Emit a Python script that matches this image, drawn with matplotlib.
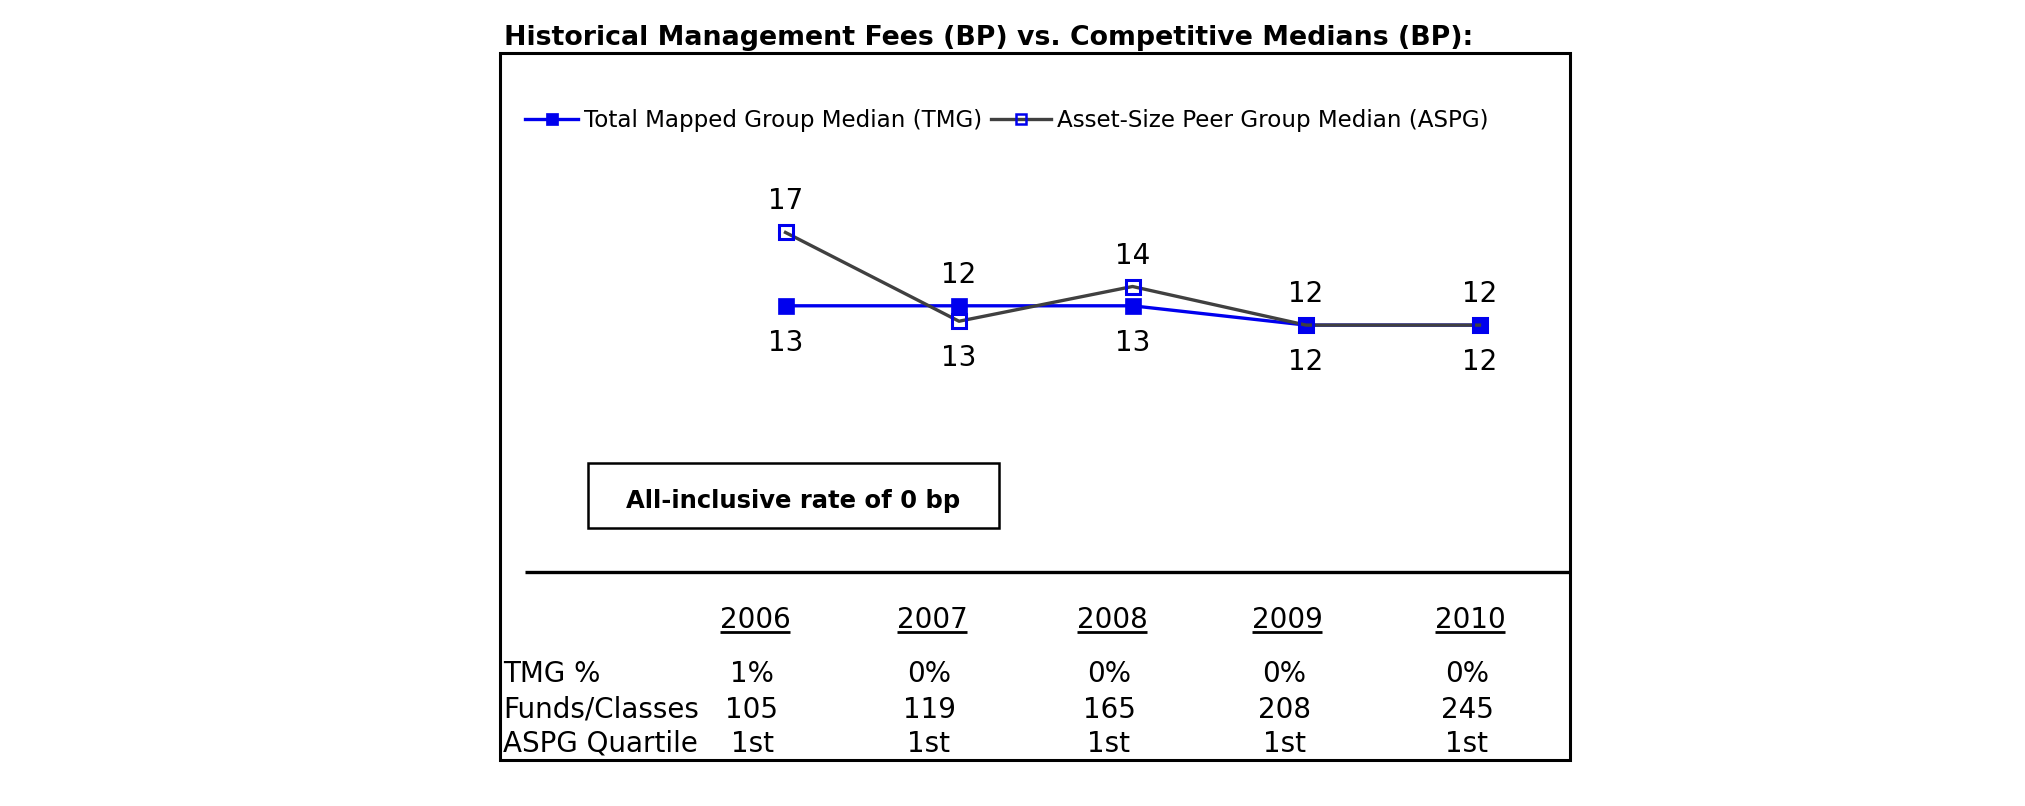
import numpy as np
import matplotlib
matplotlib.use('Agg')
import matplotlib.pyplot as plt
from matplotlib.lines import Line2D
from matplotlib.patches import Rectangle

W, H = 2025, 806

years = ['2006', '2007', '2008', '2009', '2010']
tmg_median = [13, 13, 13, 12, 12]
aspg_median = [16.8, 12.2, 14.0, 12.0, 12.0]
tmg_pct = ['1%', '0%', '0%', '0%', '0%']
funds_classes = [105, 119, 165, 208, 245]
aspg_quartile = ['1st', '1st', '1st', '1st', '1st']
row_names = ['TMG %', 'Funds/Classes', 'ASPG Quartile']

BLUE = '#0000EE'
GRAY = '#404040'

plt.rcParams['font.family'] = ['DejaVu Sans']


def px_axes(x0, x1, y_top, y_bot):
    # rect in figure fraction from pixel box (origin top-left)
    return [x0 / W, 1 - y_bot / H, (x1 - x0) / W, (y_bot - y_top) / H]


fig = plt.figure(figsize=(W / 100, H / 100), dpi=100)

# overlay axes working in pixels, y pointing down
ov = fig.add_axes([0, 0, 1, 1])
ov.set_xlim(0, W)
ov.set_ylim(H, 0)
ov.axis('off')

ov.text(504, 45, 'Historical Management Fees (BP) vs. Competitive Medians (BP):',
        fontsize=19.3, fontweight='bold', ha='left', va='baseline')
ov.add_patch(Rectangle((500, 53), 1070, 707, fill=False, ec='black', lw=2.2))

# legend
leg_y = 118.5
ov.add_line(Line2D([525, 578], [leg_y, leg_y], color=BLUE, lw=2.4))
ov.plot([551.5], [leg_y], marker='s', ms=9, color=BLUE, mew=0.5)
ov.text(584.5, 126.7, 'Total Mapped Group Median (TMG)', fontsize=16.6, va='baseline')
ov.add_line(Line2D([991, 1051], [leg_y, leg_y], color=GRAY, lw=2.4))
ov.plot([1021], [leg_y], marker='s', ms=7, mfc='none', mec=BLUE, mew=1.8)
ov.text(1057, 126.7, 'Asset-Size Peer Group Median (ASPG)', fontsize=16.6, va='baseline')

# line chart
ax = fig.add_axes(px_axes(785.5, 1479.5, 209.3, 344.4))
ax.set_xlim(0, len(years) - 1)
ax.set_ylim(11, 18)
ax.axis('off')
x = np.arange(len(years))
ax.plot(x, tmg_median, color=BLUE, lw=2.4, marker='s', ms=11,
        mfc=BLUE, mec=BLUE, mew=0.5, clip_on=False)
ax.plot(x, aspg_median, color=GRAY, lw=2.4, marker='s', ms=9.4,
        mfc='none', mec=BLUE, mew=2.2, clip_on=False)
for xi, t, a in zip(x, tmg_median, aspg_median):
    ax.annotate(f'{a:.0f}', (xi, max(t, a)), xytext=(0, 23), textcoords='offset pixels',
                ha='center', va='baseline', fontsize=20)
    ax.annotate(f'{t:.0f}', (xi, min(t, a)), xytext=(0, -45), textcoords='offset pixels',
                ha='center', va='baseline', fontsize=20)

# note box
ov.add_patch(Rectangle((588, 462.7), 410.6, 65.3, fill=False, ec='black', lw=1.8))
ov.text(793, 508.3, 'All-inclusive rate of 0 bp', fontsize=17.5, fontweight='bold',
        ha='center', va='baseline')

ov.plot([525, 1570], [571.7, 571.7], color='black', lw=2.4, solid_capstyle='butt')

# table under the chart
col_x = [755, 932, 1112, 1287, 1470]
year_texts = []
for cx, yr in zip(col_x, years):
    year_texts.append(ov.text(cx, 628.3, yr, fontsize=20, ha='center', va='baseline'))

rows = [tmg_pct, [str(v) for v in funds_classes], aspg_quartile]
row_y = [681.7, 718, 751.7]
for name, vals, ry in zip(row_names, rows, row_y):
    ov.text(503, ry, name, fontsize=20, ha='left', va='baseline')
    for cx, v in zip(col_x, vals):
        ov.text(cx - 3, ry, v, fontsize=20, ha='center', va='baseline')

# underline the year headers
fig.canvas.draw()
renderer = fig.canvas.get_renderer()
inv = ov.transData.inverted()
for t in year_texts:
    bb = t.get_window_extent(renderer)
    (x0, _), (x1, _) = inv.transform([(bb.x0, bb.y0), (bb.x1, bb.y0)])
    ov.plot([x0, x1], [631.7, 631.7], color='black', lw=2, solid_capstyle='butt')

fig.savefig('out.png', dpi=100)
